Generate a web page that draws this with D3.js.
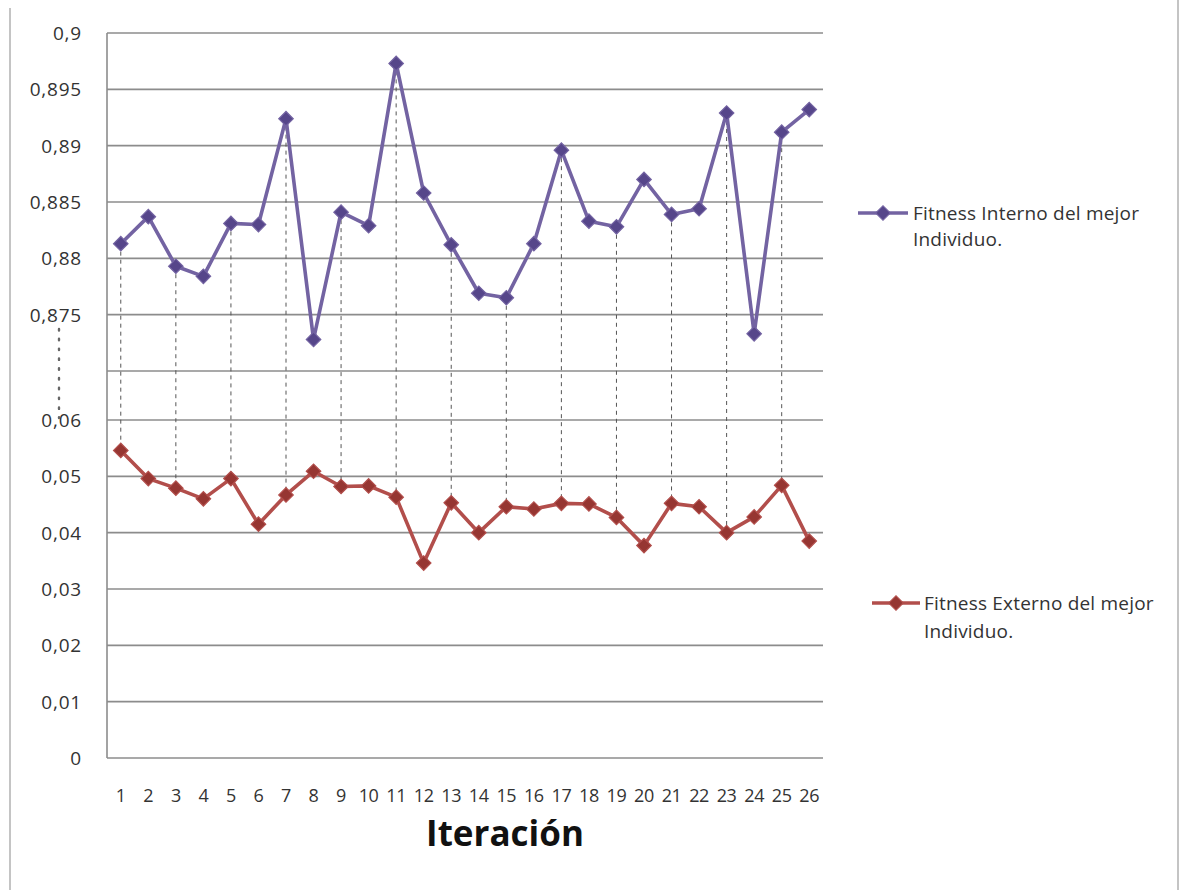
<!DOCTYPE html>
<html>
<head>
<meta charset="utf-8">
<script src="https://cdn.jsdelivr.net/npm/d3@7"></script>
<style>
  html, body { margin: 0; padding: 0; background: #ffffff; }
  svg { display: block; }
  text { font-family: "Open Sans", "Noto Sans", sans-serif; fill: #333333; }
</style>
</head>
<body>
<svg id="chart" width="1181" height="890"></svg>
<script>
// Iterations on the x axis
const iterations = d3.range(1, 27);

// Internal fitness of the best individual (upper panel)
const fitnessInterno = [
  0.8813, 0.8837, 0.8793, 0.8784, 0.8831, 0.8830, 0.8924, 0.8728, 0.8841, 0.8829,
  0.8973, 0.8858, 0.8812, 0.8769, 0.8765, 0.8813, 0.8896, 0.8833, 0.8828, 0.8870,
  0.8839, 0.8844, 0.8929, 0.8733, 0.8912, 0.8932
];

// External fitness of the best individual (lower panel)
const fitnessExterno = [
  0.0546, 0.0496, 0.0479, 0.0460, 0.0496, 0.0415, 0.0467, 0.0509, 0.0482, 0.0483,
  0.0463, 0.0346, 0.0453, 0.0400, 0.0446, 0.0442, 0.0452, 0.0451, 0.0427, 0.0377,
  0.0452, 0.0446, 0.0400, 0.0428, 0.0484, 0.0385
];

// Axis ticks for the two segments of the broken axis
const ticksUpper = [0.87, 0.875, 0.88, 0.885, 0.89, 0.895, 0.9];
const ticksLower = [0, 0.01, 0.02, 0.03, 0.04, 0.05, 0.06];
// The 0.87 line is drawn as a grid line but has no label (axis break)
const upperLabelled = [0.875, 0.88, 0.885, 0.89, 0.895, 0.9];

const seriesNames = ["Fitness Interno del mejor", "Fitness Externo del mejor"];
const legendSecondLine = "Individuo.";
const axisTitle = "Iteración";

const colInterno = "#7363a2", colInternoMark = "#56468a";
const colExterno = "#b24e4b", colExternoMark = "#963632";

const svg = d3.select("#chart");

const plot = { left: 107, right: 823 };

const x = d3.scalePoint().domain(iterations).range([plot.left, plot.right]).padding(0.5);
const yUpper = d3.scaleLinear().domain([0.87, 0.9]).range([371, 33]);
const yLower = d3.scaleLinear().domain([0, 0.06]).range([758, 420]);

const fmt = v => (v === 0 ? "0" : d3.format("")(+v.toFixed(3))).replace(".", ",");

// outer frame (side edges)
svg.append("line").attr("x1", 10).attr("x2", 10).attr("y1", 8).attr("y2", 890)
  .attr("stroke", "#c4c4c4").attr("stroke-width", 2);
svg.append("line").attr("x1", 1178).attr("x2", 1178).attr("y1", 0).attr("y2", 890)
  .attr("stroke", "#c4c4c4").attr("stroke-width", 2);

// horizontal grid lines
const grid = svg.append("g");
ticksUpper.forEach(t => {
  grid.append("line").attr("x1", plot.left).attr("x2", plot.right)
    .attr("y1", yUpper(t)).attr("y2", yUpper(t))
    .attr("stroke", "#8c8c8c").attr("stroke-width", 1.6);
});
ticksLower.forEach(t => {
  grid.append("line").attr("x1", plot.left).attr("x2", plot.right)
    .attr("y1", yLower(t)).attr("y2", yLower(t))
    .attr("stroke", "#8c8c8c").attr("stroke-width", 1.6);
});
// left axis line
svg.append("line").attr("x1", plot.left).attr("x2", plot.left)
  .attr("y1", yUpper(0.9)).attr("y2", yLower(0))
  .attr("stroke", "#8c8c8c").attr("stroke-width", 1.6);

// y tick labels
const ylab = svg.append("g").attr("text-anchor", "end").style("font-size", "19px").style("letter-spacing", "0.8px");
upperLabelled.forEach(t => {
  ylab.append("text").attr("x", 82).attr("y", yUpper(t)).attr("dy", "0.36em").text(fmt(t));
});
ticksLower.forEach(t => {
  ylab.append("text").attr("x", 82).attr("y", yLower(t)).attr("dy", "0.36em").text(fmt(t));
});

// dotted marker for the axis break
svg.append("line").attr("x1", 59).attr("x2", 59).attr("y1", 329).attr("y2", 418)
  .attr("stroke", "#666").attr("stroke-width", 2.4)
  .attr("stroke-dasharray", "1.5,8.3").attr("stroke-linecap", "round");

// dashed drop lines linking both series on odd iterations
svg.append("g").selectAll("line")
  .data(iterations.filter(i => i % 2 === 1))
  .join("line")
  .attr("x1", d => x(d)).attr("x2", d => x(d))
  .attr("y1", d => yUpper(fitnessInterno[d - 1]))
  .attr("y2", d => yLower(fitnessExterno[d - 1]))
  .attr("stroke", "#555").attr("stroke-width", 1)
  .attr("stroke-dasharray", "4,4");

// diamond markers
const diamond = d3.symbol().type(d3.symbolSquare).size(105);

function drawSeries(values, yScale, lineColor, markColor) {
  const line = d3.line().x((d, i) => x(iterations[i])).y(d => yScale(d));
  svg.append("path").datum(values).attr("d", line)
    .attr("fill", "none").attr("stroke", lineColor).attr("stroke-width", 3.6)
    .attr("stroke-linejoin", "round");
  svg.append("g").selectAll("path").data(values).join("path")
    .attr("d", diamond)
    .attr("transform", (d, i) => `translate(${x(iterations[i])},${yScale(d)}) rotate(45)`)
    .attr("fill", markColor).attr("stroke", lineColor).attr("stroke-width", 1.2);
}
drawSeries(fitnessInterno, yUpper, colInterno, colInternoMark);
drawSeries(fitnessExterno, yLower, colExterno, colExternoMark);

// x tick labels
svg.append("g").attr("text-anchor", "middle").style("font-size", "18px").style("letter-spacing", "-0.4px")
  .selectAll("text").data(iterations).join("text")
  .attr("x", d => x(d)).attr("y", 802).text(d => d);

// axis title
svg.append("text").attr("x", 505).attr("y", 846).attr("text-anchor", "middle")
  .style("font-size", "35px").style("font-weight", "700").style("fill", "#111")
  .text(axisTitle);

// legends
function legend(lx1, lx2, ly, tx, ty1, ty2, name, lineColor, markColor) {
  const g = svg.append("g");
  g.append("line").attr("x1", lx1).attr("x2", lx2).attr("y1", ly).attr("y2", ly)
    .attr("stroke", lineColor).attr("stroke-width", 3.6);
  g.append("path").attr("d", diamond)
    .attr("transform", `translate(${(lx1 + lx2) / 2},${ly}) rotate(45)`)
    .attr("fill", markColor).attr("stroke", lineColor).attr("stroke-width", 1.2);
  const t = g.append("g").style("font-size", "19px").style("letter-spacing", "0.2px");
  t.append("text").attr("x", tx).attr("y", ty1).text(name);
  t.append("text").attr("x", tx).attr("y", ty2).text(legendSecondLine);
}
legend(858, 908, 213, 913, 220, 246, seriesNames[0], colInterno, colInternoMark);
legend(872, 920, 603, 924, 610, 638, seriesNames[1], colExterno, colExternoMark);
</script>
</body>
</html>
